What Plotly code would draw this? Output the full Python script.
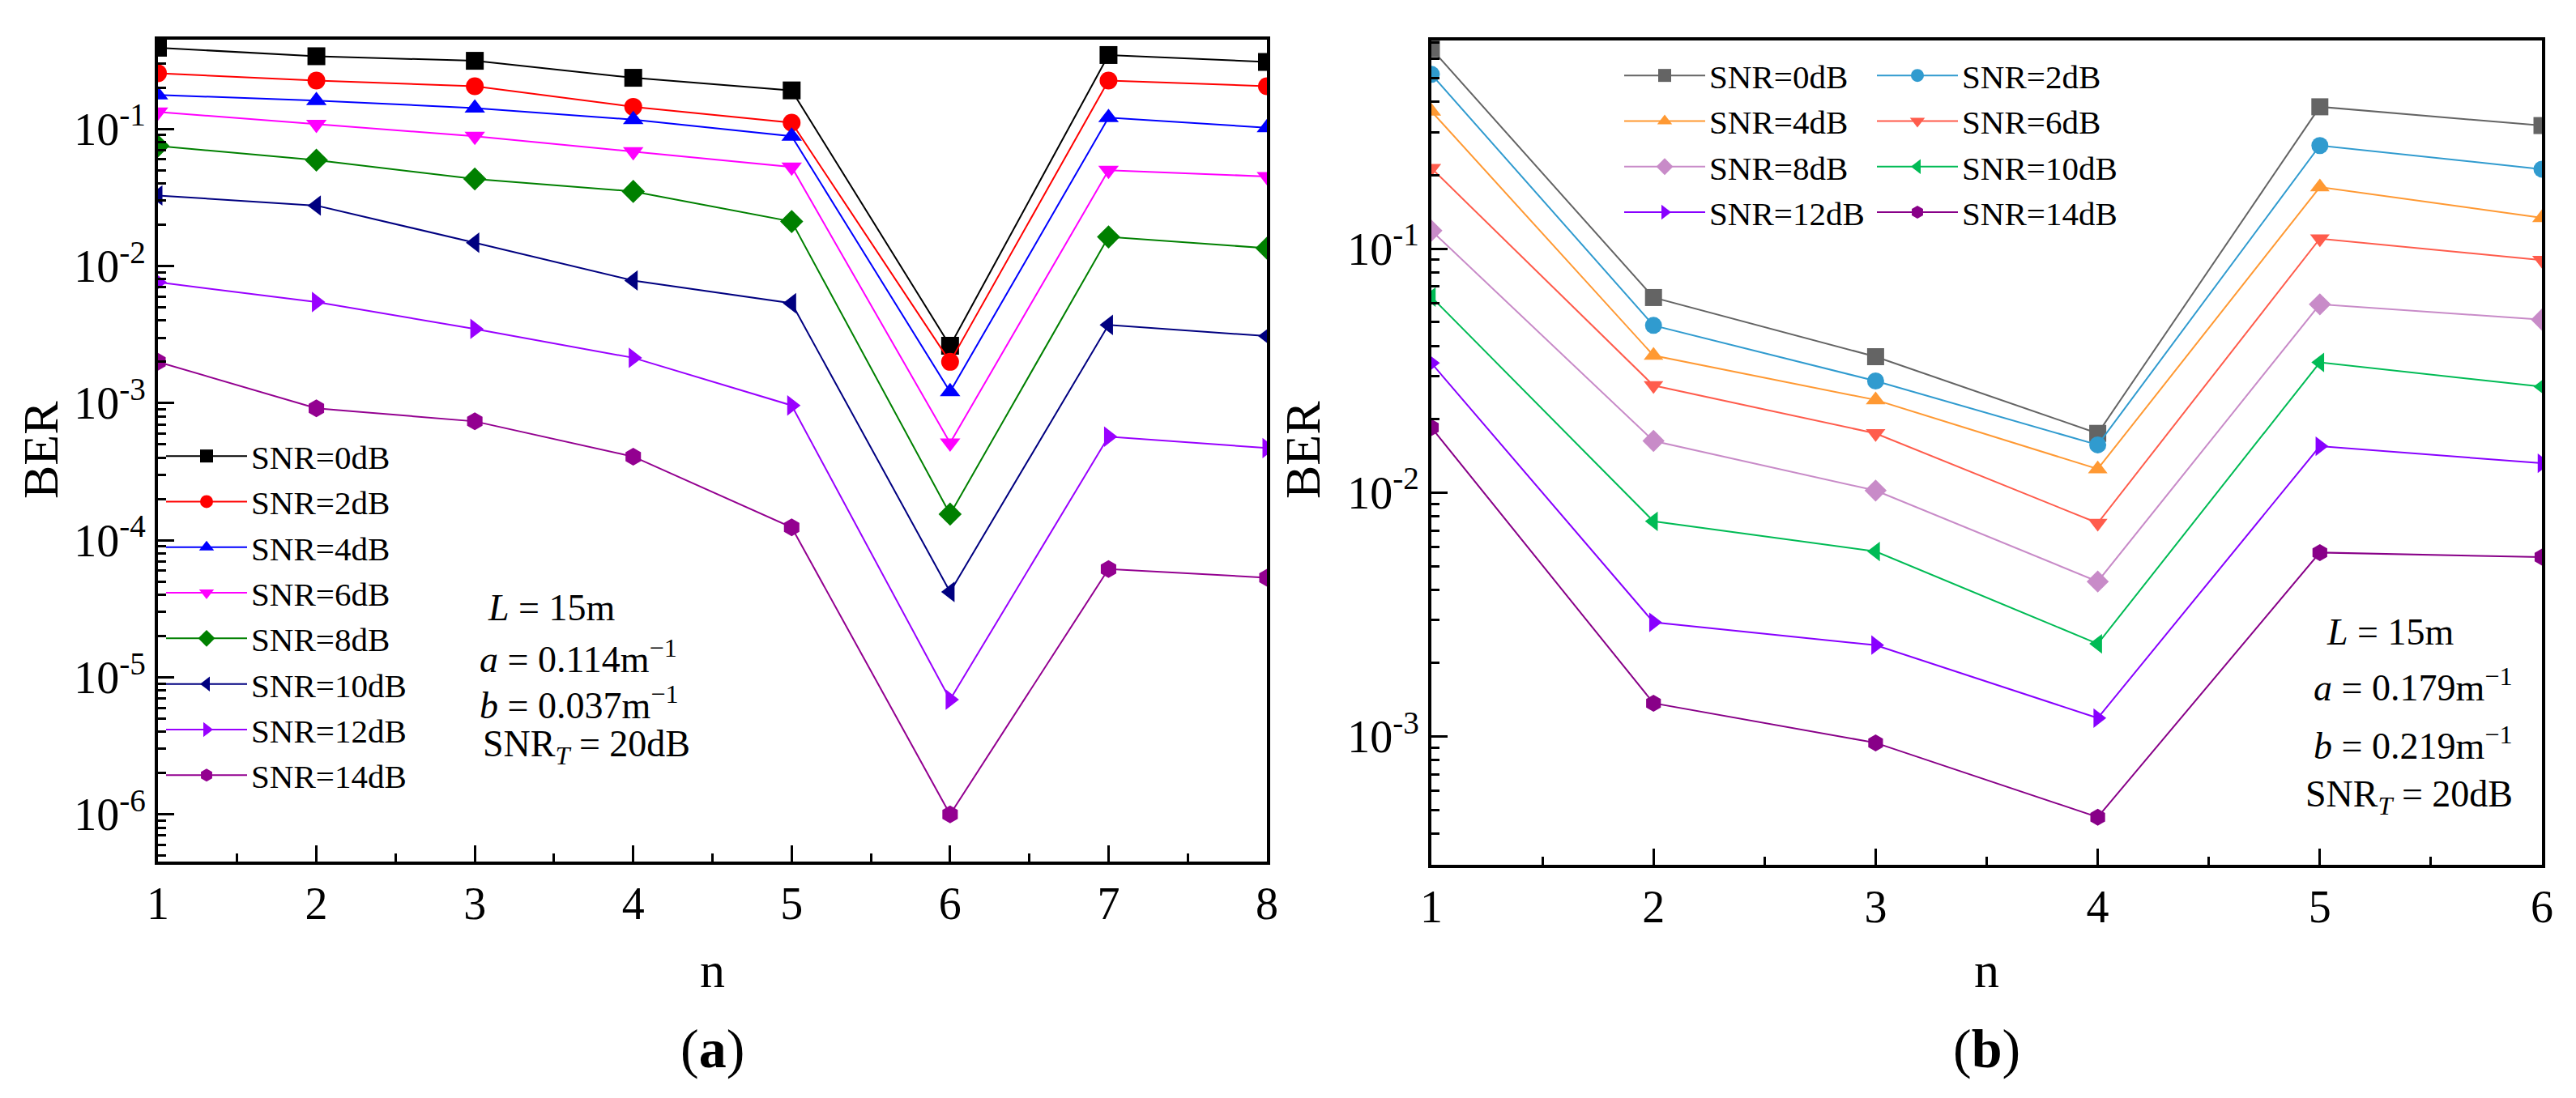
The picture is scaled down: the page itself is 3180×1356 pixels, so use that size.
import plotly.graph_objects as go

W, H = 3180, 1356

n_a = [1, 2, 3, 4, 5, 6, 7, 8]
n_b = [1, 2, 3, 4, 5, 6]
labels = ["SNR=0dB", "SNR=2dB", "SNR=4dB", "SNR=6dB", "SNR=8dB", "SNR=10dB", "SNR=12dB", "SNR=14dB"]

ber_a_0 = [0.391, 0.339, 0.314, 0.236, 0.191, 0.00262, 0.346, 0.308]
ber_a_2 = [0.255, 0.225, 0.205, 0.145, 0.111, 0.00200, 0.225, 0.205]
ber_a_4 = [0.177, 0.161, 0.142, 0.117, 0.0884, 0.00121, 0.121, 0.102]
ber_a_6 = [0.133, 0.108, 0.0884, 0.0683, 0.0528, 0.000512, 0.0499, 0.0450]
ber_a_8 = [0.0751, 0.0592, 0.0432, 0.0350, 0.0211, 0.000155, 0.0163, 0.0135]
ber_a_10 = [0.0327, 0.0276, 0.0148, 0.00784, 0.00535, 4.2e-5, 0.00372, 0.00308]
ber_a_12 = [0.00762, 0.00546, 0.00348, 0.00214, 0.000962, 6.87e-6, 0.000569, 0.000470]
ber_a_14 = [0.00200, 0.000916, 0.000736, 0.000407, 0.000124, 1.0e-6, 6.16e-5, 5.33e-5]

ber_b_0 = [0.661, 0.0631, 0.0361, 0.0175, 0.382, 0.320]
ber_b_2 = [0.519, 0.0485, 0.0287, 0.0157, 0.265, 0.212]
ber_b_4 = [0.366, 0.0365, 0.0240, 0.0125, 0.179, 0.134]
ber_b_6 = [0.214, 0.0275, 0.0175, 0.0075, 0.110, 0.0898]
ber_b_8 = [0.1187, 0.0163, 0.0102, 0.00432, 0.0592, 0.0512]
ber_b_10 = [0.0634, 0.00763, 0.00574, 0.00240, 0.0342, 0.0272]
ber_b_12 = [0.0340, 0.00294, 0.00237, 0.00119, 0.0155, 0.0132]
ber_b_14 = [0.0185, 0.00137, 0.000942, 0.000467, 0.00568, 0.00544]

series_a = [ber_a_0, ber_a_2, ber_a_4, ber_a_6, ber_a_8, ber_a_10, ber_a_12, ber_a_14]
series_b = [ber_b_0, ber_b_2, ber_b_4, ber_b_6, ber_b_8, ber_b_10, ber_b_12, ber_b_14]

colors_a = ["#000000", "#FF0000", "#0000FF", "#FF00FF", "#008000", "#000080", "#9900FF", "#930090"]
colors_b = ["#646464", "#309BCF", "#FF9933", "#FF5C4C", "#C88BC8", "#00BB55", "#8800FF", "#880088"]
symbols = ["square", "circle", "triangle-up", "triangle-down", "diamond", "triangle-left", "triangle-right", "hexagon"]

yticks_a = [1e-6, 1e-5, 1e-4, 1e-3, 1e-2, 1e-1]
yticktext_a = ["10<sup>-6</sup>", "10<sup>-5</sup>", "10<sup>-4</sup>", "10<sup>-3</sup>", "10<sup>-2</sup>", "10<sup>-1</sup>"]
yticks_b = [1e-3, 1e-2, 1e-1]
yticktext_b = ["10<sup>-3</sup>", "10<sup>-2</sup>", "10<sup>-1</sup>"]

FONT = "Liberation Serif, Times New Roman, serif"

fig = go.Figure()

for i in range(8):
    fig.add_trace(go.Scatter(
        x=n_a, y=series_a[i], name=labels[i], mode="lines+markers",
        line=dict(color=colors_a[i], width=2),
        marker=dict(symbol=symbols[i], size=22, color=colors_a[i]),
        xaxis="x", yaxis="y", legend="legend"))

for i in range(8):
    fig.add_trace(go.Scatter(
        x=n_b, y=series_b[i], name=labels[i], mode="lines+markers",
        line=dict(color=colors_b[i], width=2),
        marker=dict(symbol=symbols[i], size=21, color=colors_b[i]),
        xaxis="x2", yaxis="y2", legend="legend2" if i % 2 == 0 else "legend3"))

def px(x):
    return x / W

def py(y):
    return 1 - y / H

axis_common = dict(
    showline=True, linewidth=4, linecolor="black", mirror=True,
    ticks="inside", ticklen=20, tickwidth=3, tickcolor="black",
    showgrid=False, zeroline=False, automargin=False,
    tickfont=dict(family=FONT, size=56, color="black"),
)
minor_common = dict(ticks="inside", ticklen=10, tickwidth=3, tickcolor="black")

leg_font = dict(family=FONT, size=41, color="black")

fig.update_layout(
    template="none",
    width=W, height=H,
    margin=dict(l=0, r=0, t=0, b=0, autoexpand=False),
    paper_bgcolor="white", plot_bgcolor="white",
    font=dict(family=FONT, color="black"),
    xaxis=dict(domain=[px(187), px(1556)], range=[1, 8], tickvals=n_a,
               minor=dict(dtick=0.5, **minor_common), anchor="y", **axis_common),
    yaxis=dict(domain=[py(1056), py(41)], type="log", range=[-6.344, -0.349],
               tickvals=yticks_a, ticktext=yticktext_a,
               minor=dict(dtick="D1", **minor_common), anchor="x", **axis_common),
    xaxis2=dict(domain=[px(1759), px(3130)], range=[1, 6], tickvals=n_b,
                minor=dict(dtick=0.5, **minor_common), anchor="y2", **axis_common),
    yaxis2=dict(domain=[py(1060), py(42)], type="log", range=[-3.526, -0.146],
                tickvals=yticks_b, ticktext=yticktext_b,
                minor=dict(dtick="D1", **minor_common), anchor="x2", **axis_common),
    legend=dict(x=px(192), y=py(522), xanchor="left", yanchor="top", font=leg_font,
                bgcolor="rgba(0,0,0,0)", itemwidth=100, tracegroupgap=0),
    legend2=dict(x=px(1992), y=py(52), xanchor="left", yanchor="top", font=leg_font,
                 bgcolor="rgba(0,0,0,0)", itemwidth=100, tracegroupgap=0),
    legend3=dict(x=px(2304), y=py(52), xanchor="left", yanchor="top", font=leg_font,
                 bgcolor="rgba(0,0,0,0)", itemwidth=100, tracegroupgap=0),
)

ann = []
def add_text(x, y, text, size=46, xanchor="left", angle=0):
    ann.append(dict(x=px(x), y=py(y), xref="paper", yref="paper", text=text,
                    showarrow=False, xanchor=xanchor, yanchor="middle", textangle=angle,
                    font=dict(family=FONT, size=size, color="black")))

# panel (a) parameters
add_text(592, 742, "<i>L</i> = 15m")
add_text(582, 803, "<i>a</i> = 0.114m<sup>−1</sup>")
add_text(582, 860, "<i>b</i> = 0.037m<sup>−1</sup>")
add_text(586, 914, "SNR<sub><i>T</i></sub> = 20dB")
# panel (b) parameters
add_text(2862, 772, "<i>L</i> = 15m")
add_text(2846, 838, "<i>a</i> = 0.179m<sup>−1</sup>")
add_text(2846, 910, "<i>b</i> = 0.219m<sup>−1</sup>")
add_text(2836, 976, "SNR<sub><i>T</i></sub> = 20dB")

# axis titles
add_text(871, 1190, "n", size=62, xanchor="center")
add_text(2444, 1190, "n", size=62, xanchor="center")
add_text(42, 548, "BER", size=62, xanchor="center", angle=-90)
add_text(1600, 548, "BER", size=62, xanchor="center", angle=-90)
# panel labels
add_text(871, 1287, "(<b>a</b>)", size=68, xanchor="center")
add_text(2444, 1287, "(<b>b</b>)", size=68, xanchor="center")

fig.update_layout(annotations=ann)

fig.write_html("out.html")
